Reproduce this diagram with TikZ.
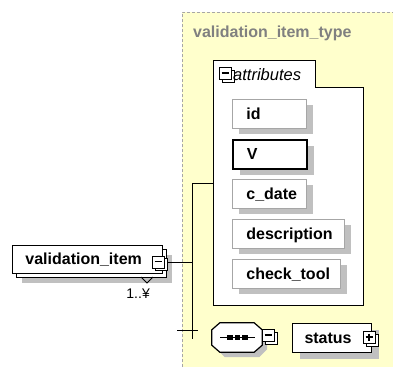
\documentclass[tikz,border=0pt]{standalone}
\usepackage{fontspec}
\setmainfont{Liberation Sans}
\usetikzlibrary{shadows,backgrounds}
\definecolor{ybg}{HTML}{FFFFCC}
\definecolor{shd}{HTML}{C0C0C0}
\begin{document}
\begin{tikzpicture}[x=1pt,y=-1pt,
  lbl/.style={font=\bfseries\fontsize{16}{16}\selectfont},
  shdw/.style={drop shadow={shadow xshift=7pt,shadow yshift=-6pt,fill=shd,opacity=1}},
  attr/.style={lbl, draw=gray!70, line width=0.8pt, fill=white, anchor=north west,
     inner xsep=14pt, inner ysep=0pt, minimum height=29pt, text height=12pt,
     text depth=1pt, align=left, shdw},
  req/.style={attr, draw=black, line width=1.5pt},
  conn/.style={draw=black, line width=1pt},
  btnm/.pic={
    \draw[fill=white, line width=1pt] (3,3) rectangle (15,15);
    \node[draw, fill=white, line width=1pt, minimum size=12pt, inner sep=0pt, anchor=north west] (-b) at (0,0) {};
    \draw[line width=1.2pt] (2.5,6) -- (9.5,6);
  },
  btnp/.pic={
    \draw[fill=white, line width=1pt] (3,3) rectangle (15,15);
    \node[draw, fill=white, line width=1pt, minimum size=12pt, inner sep=0pt, anchor=north west] (-b) at (0,0) {};
    \draw[line width=1.2pt] (2.5,6) -- (9.5,6) (6,2.5) -- (6,9.5);
  },
]
\useasboundingbox (0,0) rectangle (393,367);
% type area
\fill[ybg] (182,12) rectangle (393,367);
\draw[gray!70, densely dashed, line width=0.8pt] (182,367) -- (182,12) -- (393,12);
\node[lbl, text=gray, anchor=base west, inner sep=0pt] (title) at (193,37) {validation\_item\_type};

% attributes panel
\draw[fill=white, line width=1pt] (213,60) -- (315,60) -- (315,87) -- (363,87) -- (363,305) -- (213,305) -- cycle;
\coordinate (attrin) at (213,183);
\pic (attrbtn) at (219,67) {btnm};
\node[font=\itshape\fontsize{16.5}{16.5}\selectfont, anchor=base west, inner sep=0pt] (attrlbl) at (233,80) {attributes};

\node[attr, text width=46pt] (id) at (232,99) {id};
\node[req, text width=46pt] (v) at (232,139) {V};
\node[attr, text width=46pt] (cdate) at (232,179) {c\_date};
\node[attr, text width=84pt] (desc) at (232,219) {description};
\node[attr, text width=80pt] (ctool) at (232,259) {check\_tool};

% element validation_item
\fill[shd] (22,255) rectangle (172,283);
\draw[fill=white, line width=0.8pt] (16,249) rectangle (166,277);
\node[lbl, draw, fill=white, line width=0.8pt, anchor=north west, minimum width=150pt,
  minimum height=28pt, text width=124pt, inner xsep=13pt, inner ysep=0pt,
  text height=12pt, text depth=1pt, align=left] (vi) at (12,245) {validation\_item};
\pic (vibtn) at (152,255.5) {btnm};
\draw[line width=0.8pt] (141,277) -- (147,283) -- (153,277);
\node[font=\fontsize{14}{14}\selectfont, anchor=base east, inner sep=0pt] (mult) at (150,298) {1..¥};

% connectors
\coordinate (jtop) at (192,183);
\coordinate (jbot) at (192,339);
\coordinate (tickl) at (177,330);
\coordinate (tickr) at (198,330);
\draw[conn] ([xshift=3pt]vibtn-b.east) -- (vibtn-b.east -| jtop);
\draw[conn] (jtop) -- (jbot);
\draw[conn] (jtop) -- (attrin);
\draw[conn] (tickl) -- (tickr);

% sequence compositor
\node[minimum width=50pt, minimum height=29pt, inner sep=0pt] (seq) at (237,337.5) {};
\fill[shd] ([shift={(13,5)}]seq.north west) -- ([shift={(-3,5)}]seq.north east) -- ([shift={(5,13)}]seq.north east)
  -- ([shift={(5,-3)}]seq.south east) -- ([shift={(-3,5)}]seq.south east) -- ([shift={(13,5)}]seq.south west)
  -- ([shift={(5,-3)}]seq.south west) -- ([shift={(5,13)}]seq.north west) -- cycle;
\draw[fill=white, line width=1.2pt] ([xshift=8pt]seq.north west) -- ([xshift=-8pt]seq.north east) -- ([yshift=-7pt]seq.north east)
  -- ([yshift=7pt]seq.south east) -- ([xshift=-8pt]seq.south east) -- ([xshift=8pt]seq.south west)
  -- ([yshift=7pt]seq.south west) -- ([yshift=-7pt]seq.north west) -- cycle;
\draw[line width=1pt] (220,337.5) -- (255,337.5);
\foreach \x in {227,234.5,242} \fill (\x,335) rectangle +(5.5,5);
\pic (seqbtn) at (262,329) {btnm};

% status
\node[lbl, draw, fill=white, line width=1pt, anchor=north west, minimum height=29pt,
  text width=55pt, inner xsep=12pt, inner ysep=0pt, text height=12pt, text depth=1pt,
  align=left, shdw] (status) at (292,323) {status};
\pic (statbtn) at (363,331) {btnp};
\end{tikzpicture}
\end{document}
